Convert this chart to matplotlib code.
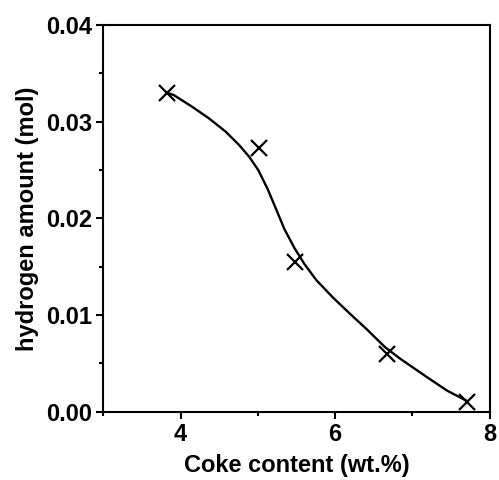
import numpy as np
import matplotlib.pyplot as plt
from matplotlib.ticker import MultipleLocator, FormatStrFormatter

plt.rcParams['font.family'] = ['Liberation Sans', 'DejaVu Sans']
plt.rcParams['font.weight'] = 'bold'

# measured points
coke = [3.83, 5.01, 5.48, 6.67, 7.71]
hydrogen = [0.0330, 0.0273, 0.0155, 0.0060, 0.0010]

# fitted curve
fit_x = [3.826, 3.913, 4.151, 4.368, 4.586, 4.759, 4.889, 5.006, 5.128,
         5.237, 5.345, 5.475, 5.605, 5.758, 5.974, 6.191, 6.409, 6.647,
         6.842, 7.190, 7.451, 7.711]
fit_y = [0.03299, 0.03275, 0.03154, 0.03034, 0.02896, 0.02758, 0.02637,
         0.02500, 0.02303, 0.02096, 0.01889, 0.01693, 0.01527, 0.01362,
         0.01181, 0.01016, 0.00855, 0.00669, 0.00550, 0.00359, 0.00219,
         0.00111]

fig = plt.figure(figsize=(4.99, 4.80), dpi=100)
ax = fig.add_axes([0.207, 0.142, 0.774, 0.806])

ax.plot(fit_x, fit_y, color='black', linewidth=1.7, solid_joinstyle='round')
ax.plot(coke, hydrogen, linestyle='none', marker='x', color='black',
        markersize=11, markeredgewidth=1.6)

ax.set_xlim(3, 8)
ax.set_ylim(0, 0.04)
ax.xaxis.set_major_locator(MultipleLocator(2))
ax.xaxis.set_minor_locator(MultipleLocator(1))
ax.yaxis.set_major_locator(MultipleLocator(0.01))
ax.yaxis.set_minor_locator(MultipleLocator(0.005))
ax.yaxis.set_major_formatter(FormatStrFormatter('%.2f'))

for s in ax.spines.values():
    s.set_linewidth(1.5)
ax.tick_params(which='major', direction='out', length=5, width=1.5, labelsize=17, pad=3)
ax.tick_params(which='minor', direction='out', length=3, width=1.5)

ax.set_xlabel('Coke content (wt.%)', fontsize=17, fontweight='bold', labelpad=6)
ax.set_ylabel('hydrogen amount (mol)', fontsize=17, fontweight='bold', labelpad=5)

plt.savefig('out.png', dpi=100)
